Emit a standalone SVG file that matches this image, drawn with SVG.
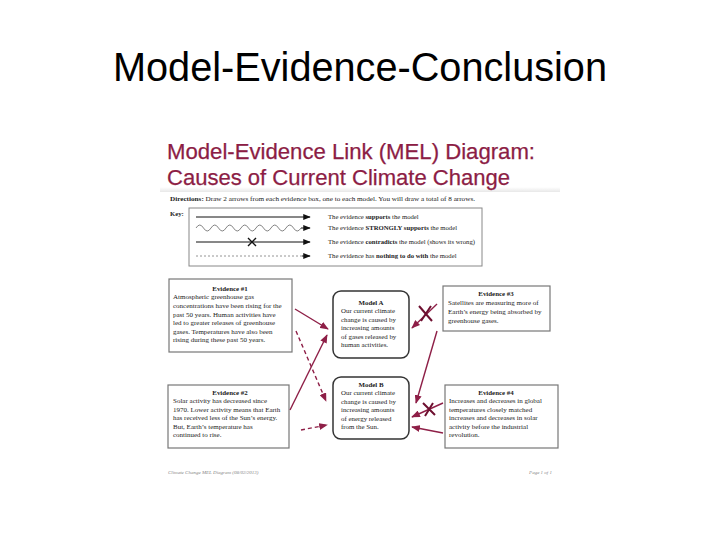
<svg xmlns="http://www.w3.org/2000/svg" width="720" height="540" viewBox="0 0 720 540">
<style>
.slide{font-family:"Liberation Sans",Arial,sans-serif;font-size:40px;fill:#000}
.hdr{font-family:"Liberation Sans",Arial,sans-serif;font-size:22px;fill:#8C1D45;stroke:#8C1D45;stroke-width:0.25}
.t{font-family:"Liberation Serif","Times New Roman",serif;font-size:7px;fill:#222}
.k{font-family:"Liberation Serif","Times New Roman",serif;font-size:6.7px;fill:#222}
.tm{font-family:"Liberation Serif","Times New Roman",serif;font-size:6.9px;fill:#222}
.h{font-family:"Liberation Serif","Times New Roman",serif;font-size:6.9px;font-weight:bold;fill:#222;text-anchor:middle}
.b{font-weight:bold}
.box{fill:#fff;stroke:#777;stroke-width:1.2}
.model{fill:#fff;stroke:#333;stroke-width:1.5}
.foot{font-family:"Liberation Serif","Times New Roman",serif;font-size:5px;font-style:italic;fill:#888}
.arr{stroke:#8E1F47;stroke-width:1.4;fill:none;marker-end:url(#ma)}
.dash{stroke-dasharray:4,3}
.xm{stroke:#6E1030;stroke-width:2;fill:none}
.karr{stroke:#111;stroke-width:1;fill:none;marker-end:url(#mk)}
</style>
<defs>
<marker id="ma" viewBox="0 0 10 8" refX="9" refY="4" markerWidth="9" markerHeight="7" markerUnits="userSpaceOnUse" orient="auto">
<path d="M0,0 L10,4 L0,8 Z" fill="#8E1F47"/>
</marker>
<marker id="mk" viewBox="0 0 10 8" refX="9" refY="4" markerWidth="8" markerHeight="6" markerUnits="userSpaceOnUse" orient="auto">
<path d="M0,0 L10,4 L0,8 Z" fill="#111"/>
</marker>
<linearGradient id="shade" x1="0" y1="0" x2="0" y2="1">
<stop offset="0" stop-color="#fff"/>
<stop offset="1" stop-color="#e8e8e8"/>
</linearGradient>
</defs>
<rect width="720" height="540" fill="#fff"/>
<text class="slide" x="360" y="81" text-anchor="middle" textLength="494" lengthAdjust="spacingAndGlyphs">Model-Evidence-Conclusion</text>

<g id="header">
<rect x="160" y="187" width="400" height="5" fill="url(#shade)"/>
<text class="hdr" x="167" y="159" textLength="368" lengthAdjust="spacingAndGlyphs">Model-Evidence Link (MEL) Diagram:</text>
<text class="hdr" x="167" y="185" textLength="343" lengthAdjust="spacingAndGlyphs">Causes of Current Climate Change</text>
<text class="k" x="170" y="201" textLength="305" lengthAdjust="spacingAndGlyphs"><tspan class="b">Directions:</tspan> Draw 2 arrows from each evidence box, one to each model. You will draw a total of 8 arrows.</text>
</g>

<g id="key">
<text class="k b" x="170" y="216">Key:</text>
<rect x="189" y="208" width="293" height="58" fill="#fff" stroke="#888" stroke-width="1"/>
<line class="karr" x1="196" y1="217" x2="310" y2="217"/>
<path d="M196,228 q3.75,-6 7.5,0 t7.5,0 t7.5,0 t7.5,0 t7.5,0 t7.5,0 t7.5,0 t7.5,0 t7.5,0 t7.5,0 t7.5,0 t7.5,0 t7.5,0 t7.5,0" fill="none" stroke="#777" stroke-width="0.9"/>
<line class="karr" x1="301" y1="228" x2="310" y2="228"/>
<line class="karr" x1="196" y1="242" x2="310" y2="242"/>
<path d="M248,238 L256,246 M256,238 L248,246" stroke="#111" stroke-width="1.4" fill="none"/>
<line x1="196" y1="256" x2="302" y2="256" stroke="#888" stroke-width="0.9" stroke-dasharray="2,2"/>
<line class="karr" x1="302" y1="256" x2="310" y2="256"/>
<text class="k" x="328" y="219">The evidence <tspan class="b">supports</tspan> the model</text>
<text class="k" x="328" y="230">The evidence <tspan class="b">STRONGLY supports</tspan> the model</text>
<text class="k" x="328" y="244" textLength="147" lengthAdjust="spacingAndGlyphs">The evidence <tspan class="b">contradicts</tspan> the model (shows its wrong)</text>
<text class="k" x="328" y="258">The evidence has <tspan class="b">nothing to do with</tspan> the model</text>
</g>

<g id="ev1">
<rect class="box" x="169" y="279" width="123" height="73"/>
<text class="h" x="230" y="291">Evidence #1</text>
<text class="t" x="173" y="299">Atmospheric  greenhouse  gas</text>
<text class="t" x="173" y="308">concentrations have been rising for the</text>
<text class="t" x="173" y="316.5">past 50 years. Human activities have</text>
<text class="t" x="173" y="325">led to greater releases of greenhouse</text>
<text class="t" x="173" y="333.5">gases. Temperatures have also been</text>
<text class="t" x="173" y="342">rising during these past 50 years.</text>
</g>

<g id="ev2">
<rect class="box" x="168" y="385" width="121" height="63"/>
<text class="h" x="230" y="395">Evidence #2</text>
<text class="t" x="173" y="403">Solar activity  has decreased since</text>
<text class="t" x="173" y="411.5">1970. Lower activity means that Earth</text>
<text class="t" x="173" y="420">has received  less of the Sun’s energy.</text>
<text class="t" x="173" y="428.5">But, Earth’s temperature  has</text>
<text class="t" x="173" y="437">continued to rise.</text>
</g>

<g id="modelA">
<rect class="model" x="333" y="291" width="76" height="67" rx="8"/>
<text class="h" x="371" y="305">Model A</text>
<text class="tm" x="341" y="313">Our current climate</text>
<text class="tm" x="341" y="321.5">change is caused by</text>
<text class="tm" x="341" y="330">increasing amounts</text>
<text class="tm" x="341" y="338.5">of gases released by</text>
<text class="tm" x="341" y="347">human activities.</text>
</g>

<g id="modelB">
<rect class="model" x="333" y="377" width="76" height="62" rx="8"/>
<text class="h" x="371" y="387">Model B</text>
<text class="tm" x="341" y="395">Our current climate</text>
<text class="tm" x="341" y="403.5">change is caused by</text>
<text class="tm" x="341" y="412">increasing amounts</text>
<text class="tm" x="341" y="420.5">of energy released</text>
<text class="tm" x="341" y="429">from the Sun.</text>
</g>

<g id="ev3">
<rect class="box" x="443" y="286" width="107" height="45"/>
<text class="h" x="496" y="296">Evidence #3</text>
<text class="t" x="448" y="305">Satellites  are measuring more of</text>
<text class="t" x="448" y="314">Earth’s energy being absorbed by</text>
<text class="t" x="448" y="322.5">greenhouse gases.</text>
</g>

<g id="ev4">
<rect class="box" x="445" y="385" width="113" height="63"/>
<text class="h" x="496" y="395">Evidence #4</text>
<text class="t" x="449" y="403">Increases and decreases in global</text>
<text class="t" x="449" y="411.5">temperatures  closely matched</text>
<text class="t" x="449" y="420">increases and decreases in solar</text>
<text class="t" x="449" y="428.5">activity before the industrial</text>
<text class="t" x="449" y="437">revolution.</text>
</g>

<g id="connectors">
<line class="arr" x1="295" y1="309" x2="328" y2="329"/>
<line class="arr dash" x1="296" y1="331" x2="326" y2="401"/>
<line class="arr" x1="290" y1="410" x2="327" y2="335"/>
<line class="arr dash" x1="301" y1="430" x2="327" y2="425"/>
<line class="arr" x1="437" y1="304" x2="412" y2="328"/>
<path class="xm" d="M419,306 L432,321 M431,306 L421,321"/>
<line class="arr" x1="437" y1="331" x2="416" y2="403"/>
<line class="arr" x1="443" y1="403" x2="412" y2="417"/>
<path class="xm" d="M423,403 L435,415 M433,403 L425,416"/>
<line class="arr" x1="443" y1="433" x2="412" y2="427"/>
</g>

<g id="footer">
<text class="foot" x="168" y="474">Climate Change MEL Diagram (08/02/2013)</text>
<text class="foot" x="552" y="474" text-anchor="end">Page 1 of 1</text>
</g>
</svg>
